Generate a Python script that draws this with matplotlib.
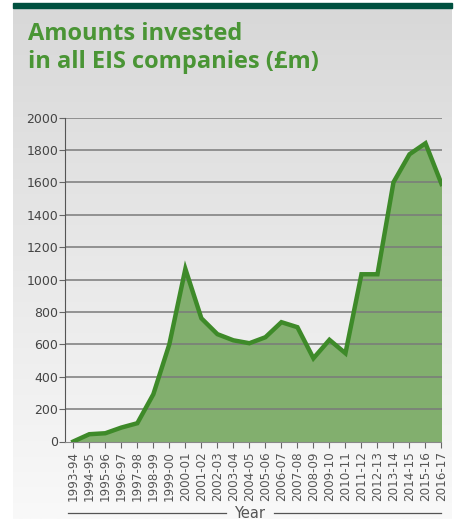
import numpy as np
import matplotlib
matplotlib.use("Agg")
import matplotlib.pyplot as plt
from matplotlib.lines import Line2D
from matplotlib.patches import Rectangle

years = ["1993-94", "1994-95", "1995-96", "1996-97", "1997-98", "1998-99",
         "1999-00", "2000-01", "2001-02", "2002-03", "2003-04", "2004-05",
         "2005-06", "2006-07", "2007-08", "2008-09", "2009-10", "2010-11",
         "2011-12", "2012-13", "2013-14", "2014-15", "2015-16", "2016-17"]
amounts = [0, 45, 51, 86, 113, 292, 601, 1066, 761, 663, 625, 607,
           644, 737, 706, 514, 628, 545, 1033, 1033, 1601, 1774, 1842, 1591]
yticks = [0, 200, 400, 600, 800, 1000, 1200, 1400, 1600, 1800, 2000]

W, H = 457, 519
fig = plt.figure(figsize=(W / 100, H / 100), dpi=100)
fig.patch.set_facecolor("white")

# background panel with gradient
bg = fig.add_axes([0, 0, 1, 1], zorder=0)
bg.set_xlim(0, W)
bg.set_ylim(H, 0)
bg.axis("off")
grad = np.linspace(0, 1, 256).reshape(-1, 1)
top_c = np.array([216, 216, 216]) / 255
bot_c = np.array([249, 249, 249]) / 255
img = top_c + (bot_c - top_c) * grad
img = img.reshape(256, 1, 3)
bg.imshow(img, extent=[13, 452, H, 8], aspect="auto", zorder=0)
bg.add_patch(Rectangle((13, 3), 439, 5.3, color="#00503f", zorder=1))
bg.text(28, 40, "Amounts invested", fontsize=17, fontweight="bold",
        color="#4a9535", family="Open Sans", va="baseline")
bg.text(28, 68, "in all EIS companies (£m)", fontsize=17, fontweight="bold",
        color="#4a9535", family="Open Sans", va="baseline")
bg.text(250, 513, "Year", fontsize=10.5, color="#555555", ha="center",
        va="center", family="DejaVu Sans")
bg.add_line(Line2D([68, 226], [513, 513], color="#555555", lw=0.9))
bg.add_line(Line2D([274, 441], [513, 513], color="#555555", lw=0.9))

# main axes
left, right = 65.3, 441.5
top, bottom = 117.7, 441.5
ax = fig.add_axes([left / W, 1 - bottom / H, (right - left) / W, (bottom - top) / H], zorder=2)
ax.patch.set_alpha(0)
x = np.arange(len(years))
ax.fill_between(x, amounts, 0, color="#82af6e", zorder=1, linewidth=0)
for yv in yticks[1:]:
    ax.axhline(yv, color="#7a7a7a", lw=1.1, zorder=2)
ax.plot(x, amounts, color="#3e8a29", lw=3.2, zorder=3, solid_joinstyle="miter")
ax.set_xlim(-0.5, len(years) - 1)
ax.set_ylim(0, 2000)
ax.set_yticks(yticks)
ax.set_yticklabels([str(v) for v in yticks], fontsize=9, color="#444444")
ax.set_xticks(x)
ax.set_xticklabels(years, rotation=90, fontsize=8.6, color="#555555")
for s in ["top", "right"]:
    ax.spines[s].set_visible(False)
ax.spines["left"].set_color("#555555")
ax.spines["bottom"].set_color("#888888")
ax.tick_params(axis="y", length=4, color="#666666", pad=1)
ax.tick_params(axis="x", length=4, color="#666666", pad=3)

fig.savefig("out.png", dpi=100)
